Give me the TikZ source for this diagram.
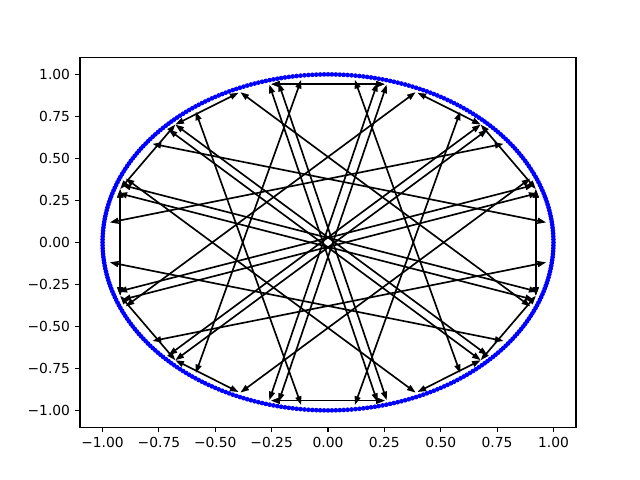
\documentclass[tikz,border=0pt]{standalone}
\usepackage{fontspec}
\setmainfont{DejaVu Sans}
\usetikzlibrary{arrows.meta}
\newcommand\rr{0.975}
\newcommand\chordfour[2]{%
  \draw[chord] ({\rr*cos(#1)},{\rr*sin(#1)}) -- ({\rr*cos(#2)},{\rr*sin(#2)});
  \draw[chord] ({\rr*cos(180-(#1))},{\rr*sin(180-(#1))}) -- ({\rr*cos(180-(#2))},{\rr*sin(180-(#2))});
  \draw[chord] ({\rr*cos(-(#1))},{\rr*sin(-(#1))}) -- ({\rr*cos(-(#2))},{\rr*sin(-(#2))});
  \draw[chord] ({\rr*cos(180+(#1))},{\rr*sin(180+(#1))}) -- ({\rr*cos(180+(#2))},{\rr*sin(180+(#2))});
}
\begin{document}
\begin{tikzpicture}[
  chord/.style={line width=1.2pt, black, {Triangle[length=2.2mm,width=1.5mm]}-{Triangle[length=2.2mm,width=1.5mm]}},
  axisline/.style={line width=0.8pt, black},
  lab/.style={font=\fontsize{10}{12}\selectfont, inner sep=0pt}
]
\useasboundingbox (0,0) rectangle (16.256,12.192);
\begin{scope}[shift={(8.3312,6.03504)}, x=5.72655cm, y=4.2672cm]
  % chords
  \chordfour{97}{233}
  \chordfour{143}{7}
  \chordfour{157}{293.5}
  \chordfour{134}{161}
  \chordfour{161}{199}
  \chordfour{105}{75}
  \chordfour{162.5}{339.5}
  \chordfour{105.5}{283}
  \chordfour{134}{114}
  \chordfour{134}{316.5}
  % blue dots
  \foreach \k in {0,...,359} {\fill[blue] ({cos(\k)},{sin(\k)}) circle[radius=1.7pt];}
  % frame
  \draw[axisline] (-1.1,-1.1) rectangle (1.1,1.1);
  % ticks
  \foreach \v/\t in {-1/{−1.00},-0.75/{−0.75},-0.5/{−0.50},-0.25/{−0.25},0/{0.00},0.25/{0.25},0.5/{0.50},0.75/{0.75},1/{1.00}} {
    \draw[axisline] (\v,-1.1) -- ++(0,-3.5pt) coordinate (xt);
    \node[lab, anchor=north] at ([yshift=-3.5pt]xt) {\t};
    \draw[axisline] (-1.1,\v) -- ++(-3.5pt,0) coordinate (yt);
    \node[lab, anchor=east] at ([xshift=-3.5pt]yt) {\t};
  }
\end{scope}
\end{tikzpicture}
\end{document}
